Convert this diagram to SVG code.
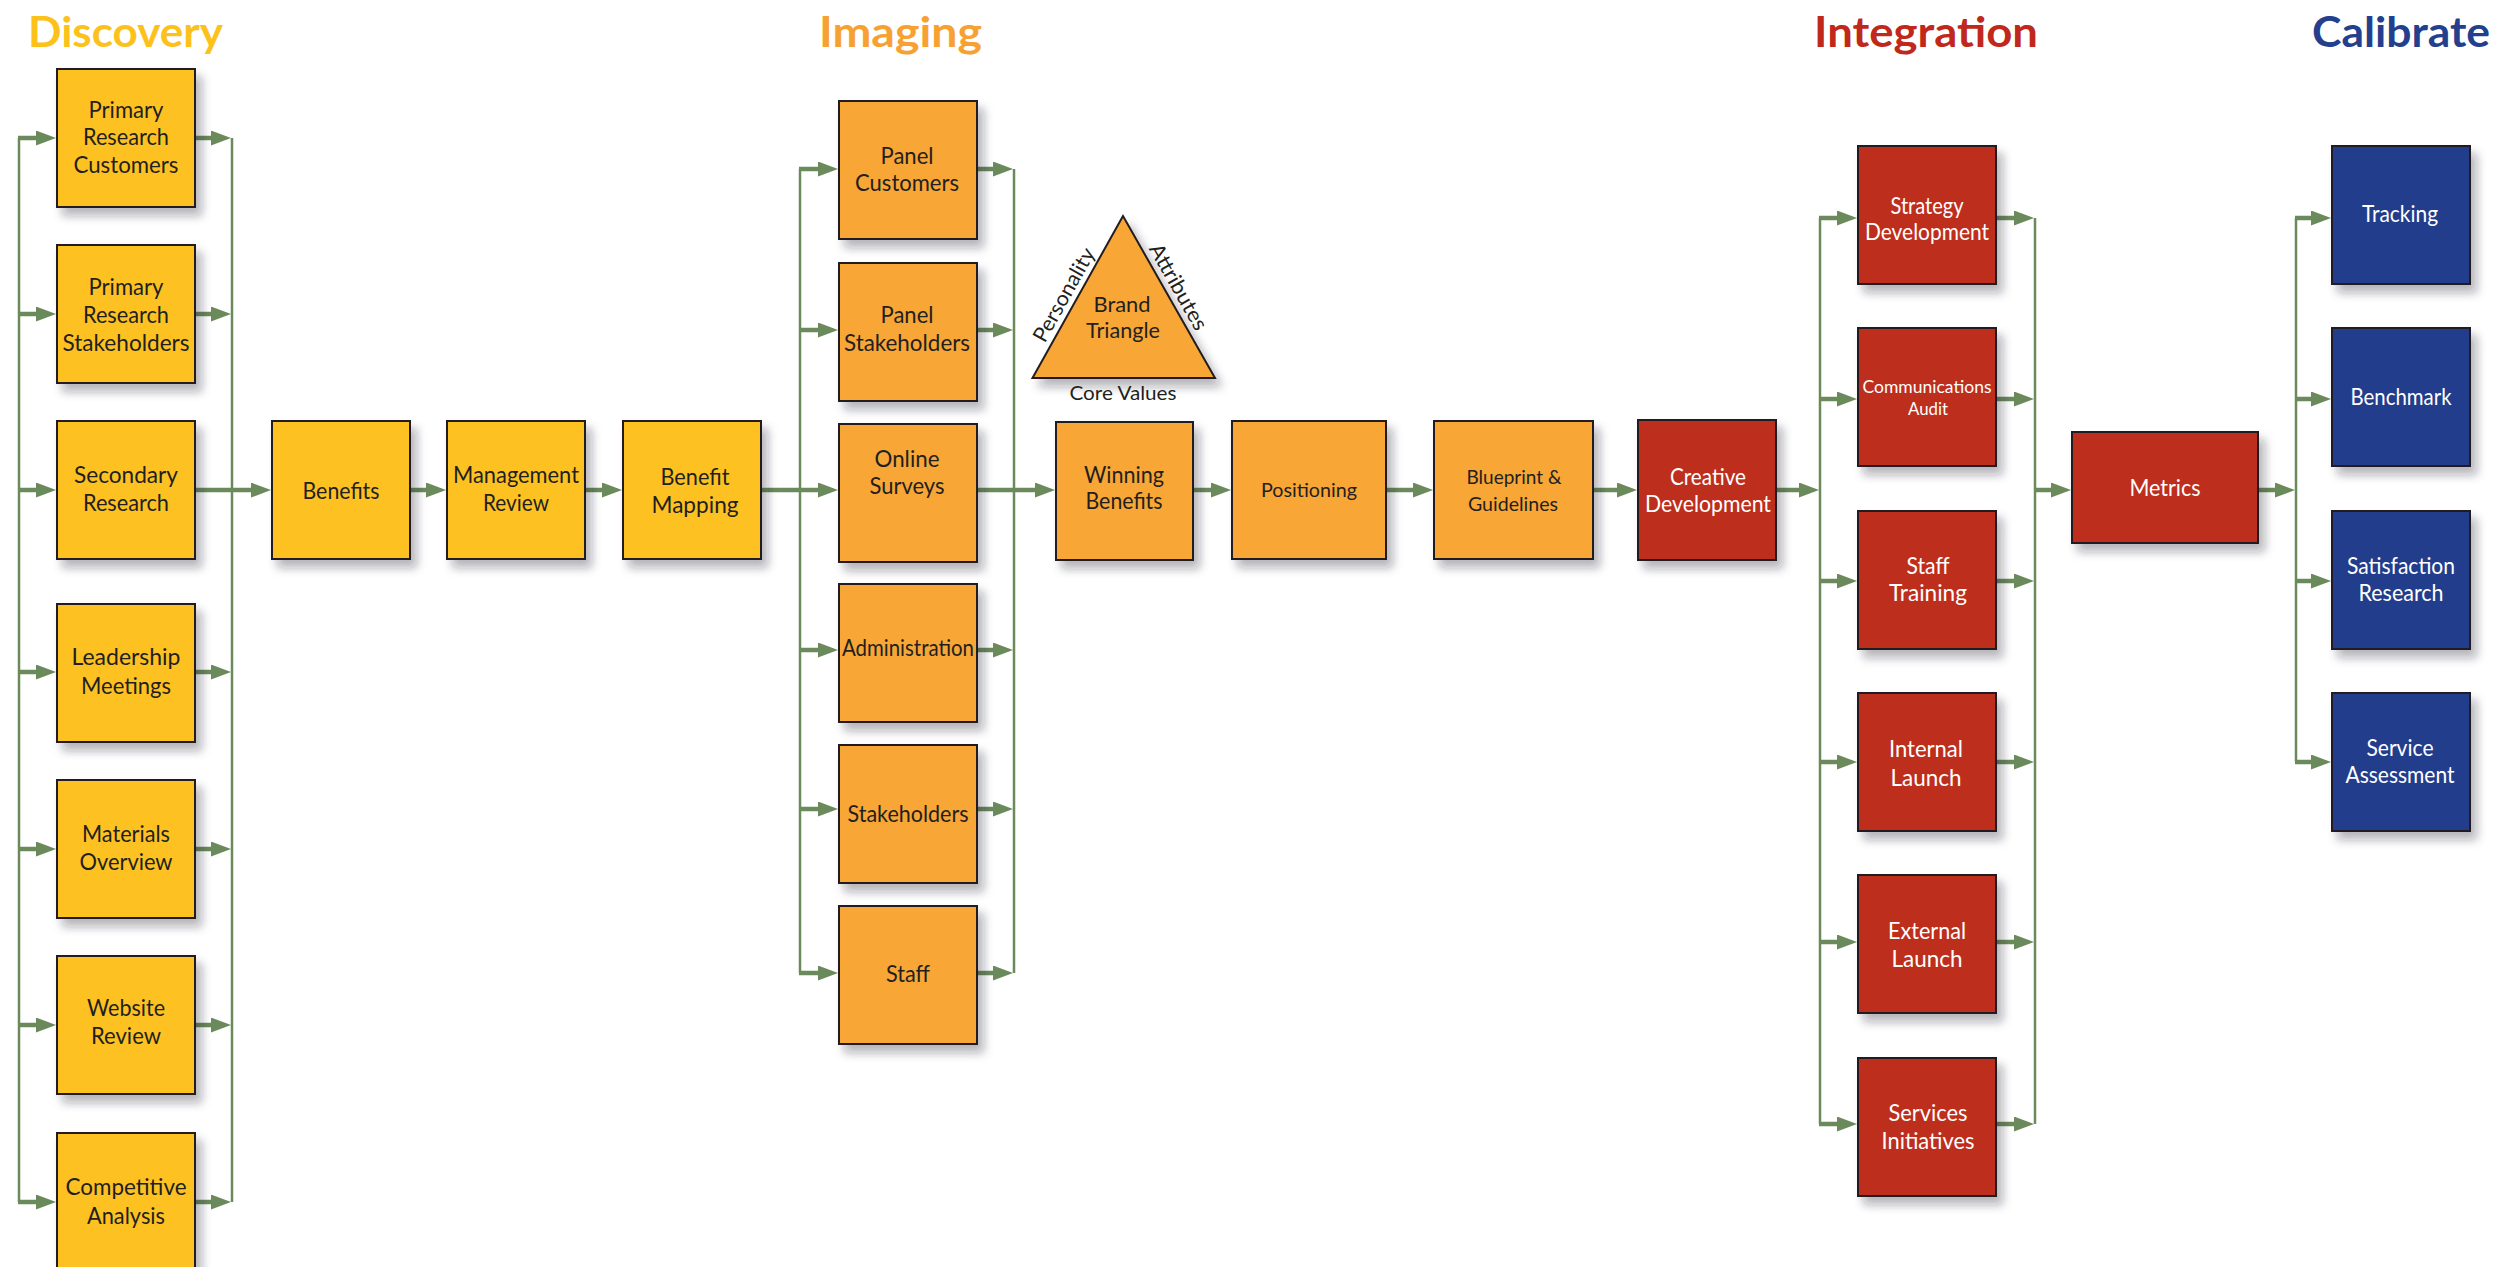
<svg xmlns="http://www.w3.org/2000/svg" width="2500" height="1267" viewBox="0 0 2500 1267">
  <defs>
    <style>
      .bg { fill: #ffffff; }
      .box { stroke: #231f20; stroke-width: 2; filter: url(#shadow); }
      .yel { fill: #fdc223; }
      .org { fill: #f8a634; }
      .red { fill: #be2d1b; }
      .blu { fill: #243e8b; }
      .lbl { font-family: Lato, "Open Sans", "Liberation Sans", sans-serif; font-size: 23px; text-anchor: middle; }
      .dk { fill: #231f20; }
      .wt { fill: #ffffff; }
      .sm { font-size: 19px; }
      .xs { font-size: 18px; }
      .md { font-size: 21px; }
      .ttl { font-family: Lato, "Open Sans", "Liberation Sans", sans-serif; font-weight: 700; font-size: 42px; }
      .bus { stroke: #6b8a5b; stroke-width: 2.5; fill: none; }
      .stub { stroke: #6b8a5b; stroke-width: 4.5; fill: none; marker-end: url(#ah); }
    </style>
    <marker id="ah" markerUnits="userSpaceOnUse" markerWidth="20" markerHeight="16" refX="1" refY="7.5" orient="auto">
      <path d="M0,0 L20,7.5 L0,15 Z" fill="#6b8a5b"/>
    </marker>
    <filter id="shadow" x="-20%" y="-20%" width="150%" height="150%">
      <feDropShadow dx="6" dy="8" stdDeviation="5" flood-color="#1a1a2a" flood-opacity="0.32"/>
    </filter>
  </defs>

  <rect class="bg" x="0" y="0" width="2500" height="1267"/>

  <!-- phase titles -->
  <g id="titles">
    <text class="ttl" x="28" y="47" fill="#fdc11c" textLength="195" lengthAdjust="spacingAndGlyphs">Discovery</text>
    <text class="ttl" x="819" y="47" fill="#f7a133" textLength="163" lengthAdjust="spacingAndGlyphs">Imaging</text>
    <text class="ttl" x="1814" y="47" fill="#c1281c" textLength="224" lengthAdjust="spacingAndGlyphs">Integration</text>
    <text class="ttl" x="2312" y="47" fill="#243f8d" textLength="178" lengthAdjust="spacingAndGlyphs">Calibrate</text>
  </g>

  <!-- connectors -->
  <g id="connectors">
    <!-- Discovery buses -->
    <line class="bus" x1="19" y1="138" x2="19" y2="1202"/>
    <line class="bus" x1="232" y1="138" x2="232" y2="1202"/>
    <line class="stub" x1="18" y1="138" x2="37" y2="138"/>
    <line class="stub" x1="19" y1="314" x2="37" y2="314"/>
    <line class="stub" x1="19" y1="490" x2="37" y2="490"/>
    <line class="stub" x1="19" y1="672" x2="37" y2="672"/>
    <line class="stub" x1="19" y1="849" x2="37" y2="849"/>
    <line class="stub" x1="19" y1="1025" x2="37" y2="1025"/>
    <line class="stub" x1="18" y1="1202" x2="37" y2="1202"/>
    <line class="stub" x1="195" y1="138" x2="212" y2="138"/>
    <line class="stub" x1="195" y1="314" x2="212" y2="314"/>
    <line class="stub" x1="195" y1="672" x2="212" y2="672"/>
    <line class="stub" x1="195" y1="849" x2="212" y2="849"/>
    <line class="stub" x1="195" y1="1025" x2="212" y2="1025"/>
    <line class="stub" x1="195" y1="1202" x2="212" y2="1202"/>
    <line class="stub" x1="195" y1="490" x2="252" y2="490"/>
    <line class="stub" x1="410" y1="490" x2="427" y2="490"/>
    <line class="stub" x1="585" y1="490" x2="603" y2="490"/>
    <line class="stub" x1="761" y1="490" x2="819" y2="490"/>

    <!-- Imaging buses -->
    <line class="bus" x1="800" y1="169" x2="800" y2="973"/>
    <line class="bus" x1="1014" y1="169" x2="1014" y2="973"/>
    <line class="stub" x1="799" y1="169" x2="819" y2="169"/>
    <line class="stub" x1="800" y1="330" x2="819" y2="330"/>
    <line class="stub" x1="800" y1="650" x2="819" y2="650"/>
    <line class="stub" x1="800" y1="809" x2="819" y2="809"/>
    <line class="stub" x1="799" y1="973" x2="819" y2="973"/>
    <line class="stub" x1="977" y1="169" x2="994" y2="169"/>
    <line class="stub" x1="977" y1="330" x2="994" y2="330"/>
    <line class="stub" x1="977" y1="650" x2="994" y2="650"/>
    <line class="stub" x1="977" y1="809" x2="994" y2="809"/>
    <line class="stub" x1="977" y1="973" x2="994" y2="973"/>
    <line class="stub" x1="977" y1="490" x2="1036" y2="490"/>
    <line class="stub" x1="1193" y1="490" x2="1212" y2="490"/>
    <line class="stub" x1="1386" y1="490" x2="1414" y2="490"/>
    <line class="stub" x1="1593" y1="490" x2="1618" y2="490"/>
    <line class="stub" x1="1776" y1="490" x2="1800" y2="490"/>

    <!-- Integration buses -->
    <line class="bus" x1="1820" y1="218" x2="1820" y2="1124"/>
    <line class="bus" x1="2035" y1="218" x2="2035" y2="1124"/>
    <line class="stub" x1="1819" y1="218" x2="1838" y2="218"/>
    <line class="stub" x1="1820" y1="399" x2="1838" y2="399"/>
    <line class="stub" x1="1820" y1="581" x2="1838" y2="581"/>
    <line class="stub" x1="1820" y1="762" x2="1838" y2="762"/>
    <line class="stub" x1="1820" y1="942" x2="1838" y2="942"/>
    <line class="stub" x1="1819" y1="1124" x2="1838" y2="1124"/>
    <line class="stub" x1="1996" y1="218" x2="2015" y2="218"/>
    <line class="stub" x1="1996" y1="399" x2="2015" y2="399"/>
    <line class="stub" x1="1996" y1="581" x2="2015" y2="581"/>
    <line class="stub" x1="1996" y1="762" x2="2015" y2="762"/>
    <line class="stub" x1="1996" y1="942" x2="2015" y2="942"/>
    <line class="stub" x1="1996" y1="1124" x2="2015" y2="1124"/>
    <line class="stub" x1="2035" y1="490" x2="2052" y2="490"/>
    <line class="stub" x1="2258" y1="490" x2="2276" y2="490"/>

    <!-- Calibrate bus -->
    <line class="bus" x1="2296" y1="218" x2="2296" y2="762"/>
    <line class="stub" x1="2295" y1="218" x2="2312" y2="218"/>
    <line class="stub" x1="2296" y1="399" x2="2312" y2="399"/>
    <line class="stub" x1="2296" y1="581" x2="2312" y2="581"/>
    <line class="stub" x1="2295" y1="762" x2="2312" y2="762"/>
  </g>

  <!-- Discovery -->
  <g id="primary-research-customers">
    <rect class="box yel" x="57" y="69" width="138" height="138"/>
    <text class="lbl dk" x="126" y="118" textLength="75" lengthAdjust="spacingAndGlyphs">Primary</text>
    <text class="lbl dk" x="126" y="145" textLength="86" lengthAdjust="spacingAndGlyphs">Research</text>
    <text class="lbl dk" x="126" y="173" textLength="105" lengthAdjust="spacingAndGlyphs">Customers</text>
  </g>
  <g id="primary-research-stakeholders">
    <rect class="box yel" x="57" y="245" width="138" height="138"/>
    <text class="lbl dk" x="126" y="295" textLength="75" lengthAdjust="spacingAndGlyphs">Primary</text>
    <text class="lbl dk" x="126" y="323" textLength="86" lengthAdjust="spacingAndGlyphs">Research</text>
    <text class="lbl dk" x="126" y="351" textLength="127" lengthAdjust="spacingAndGlyphs">Stakeholders</text>
  </g>
  <g id="secondary-research">
    <rect class="box yel" x="57" y="421" width="138" height="138"/>
    <text class="lbl dk" x="126" y="483" textLength="104" lengthAdjust="spacingAndGlyphs">Secondary</text>
    <text class="lbl dk" x="126" y="511" textLength="86" lengthAdjust="spacingAndGlyphs">Research</text>
  </g>
  <g id="leadership-meetings">
    <rect class="box yel" x="57" y="604" width="138" height="138"/>
    <text class="lbl dk" x="126" y="665" textLength="109" lengthAdjust="spacingAndGlyphs">Leadership</text>
    <text class="lbl dk" x="126" y="694" textLength="90" lengthAdjust="spacingAndGlyphs">Meetings</text>
  </g>
  <g id="materials-overview">
    <rect class="box yel" x="57" y="780" width="138" height="138"/>
    <text class="lbl dk" x="126" y="842" textLength="88" lengthAdjust="spacingAndGlyphs">Materials</text>
    <text class="lbl dk" x="126" y="870" textLength="93" lengthAdjust="spacingAndGlyphs">Overview</text>
  </g>
  <g id="website-review">
    <rect class="box yel" x="57" y="956" width="138" height="138"/>
    <text class="lbl dk" x="126" y="1016" textLength="78" lengthAdjust="spacingAndGlyphs">Website</text>
    <text class="lbl dk" x="126" y="1044" textLength="70" lengthAdjust="spacingAndGlyphs">Review</text>
  </g>
  <g id="competitive-analysis">
    <rect class="box yel" x="57" y="1133" width="138" height="138"/>
    <text class="lbl dk" x="126" y="1195" textLength="121" lengthAdjust="spacingAndGlyphs">Competitive</text>
    <text class="lbl dk" x="126" y="1224" textLength="78" lengthAdjust="spacingAndGlyphs">Analysis</text>
  </g>
  <g id="benefits">
    <rect class="box yel" x="272" y="421" width="138" height="138"/>
    <text class="lbl dk" x="341" y="499" textLength="77" lengthAdjust="spacingAndGlyphs">Benefits</text>
  </g>
  <g id="management-review">
    <rect class="box yel" x="447" y="421" width="138" height="138"/>
    <text class="lbl dk" x="516" y="483" textLength="126" lengthAdjust="spacingAndGlyphs">Management</text>
    <text class="lbl dk" x="516" y="511" textLength="66" lengthAdjust="spacingAndGlyphs">Review</text>
  </g>
  <g id="benefit-mapping">
    <rect class="box yel" x="623" y="421" width="138" height="138"/>
    <text class="lbl dk" x="695" y="485" textLength="69" lengthAdjust="spacingAndGlyphs">Benefit</text>
    <text class="lbl dk" x="695" y="513" textLength="87" lengthAdjust="spacingAndGlyphs">Mapping</text>
  </g>

  <!-- Imaging -->
  <g id="panel-customers">
    <rect class="box org" x="839" y="101" width="138" height="138"/>
    <text class="lbl dk" x="907" y="164" textLength="53" lengthAdjust="spacingAndGlyphs">Panel</text>
    <text class="lbl dk" x="907" y="191" textLength="104" lengthAdjust="spacingAndGlyphs">Customers</text>
  </g>
  <g id="panel-stakeholders">
    <rect class="box org" x="839" y="263" width="138" height="138"/>
    <text class="lbl dk" x="907" y="323" textLength="53" lengthAdjust="spacingAndGlyphs">Panel</text>
    <text class="lbl dk" x="907" y="351" textLength="126" lengthAdjust="spacingAndGlyphs">Stakeholders</text>
  </g>
  <g id="online-surveys">
    <rect class="box org" x="839" y="424" width="138" height="138"/>
    <text class="lbl dk" x="907" y="467" textLength="65" lengthAdjust="spacingAndGlyphs">Online</text>
    <text class="lbl dk" x="907" y="494" textLength="75" lengthAdjust="spacingAndGlyphs">Surveys</text>
  </g>
  <g id="administration">
    <rect class="box org" x="839" y="584" width="138" height="138"/>
    <text class="lbl dk" x="908" y="656" textLength="132" lengthAdjust="spacingAndGlyphs">Administration</text>
  </g>
  <g id="stakeholders">
    <rect class="box org" x="839" y="745" width="138" height="138"/>
    <text class="lbl dk" x="908" y="822" textLength="121" lengthAdjust="spacingAndGlyphs">Stakeholders</text>
  </g>
  <g id="staff">
    <rect class="box org" x="839" y="906" width="138" height="138"/>
    <text class="lbl dk" x="908" y="982" textLength="44" lengthAdjust="spacingAndGlyphs">Staff</text>
  </g>
  <g id="brand-triangle">
    <polygon class="box org" points="1123,216 1032.5,378 1215,378"/>
    <text class="lbl dk md" x="1122" y="312" textLength="57" lengthAdjust="spacingAndGlyphs">Brand</text>
    <text class="lbl dk md" x="1123" y="338" textLength="74" lengthAdjust="spacingAndGlyphs">Triangle</text>
    <text class="lbl dk md" transform="translate(1070.2,298.3) rotate(-60.8)" x="0" y="0" textLength="104" lengthAdjust="spacingAndGlyphs">Personality</text>
    <text class="lbl dk md" transform="translate(1172.2,290.4) rotate(60.4)" x="0" y="0" textLength="96" lengthAdjust="spacingAndGlyphs">Attributes</text>
    <text class="lbl dk" style="font-size:20px" x="1123" y="400" textLength="107" lengthAdjust="spacingAndGlyphs">Core Values</text>
  </g>
  <g id="winning-benefits">
    <rect class="box org" x="1056" y="422" width="137" height="138"/>
    <text class="lbl dk" x="1124" y="483" textLength="80" lengthAdjust="spacingAndGlyphs">Winning</text>
    <text class="lbl dk" x="1124" y="509" textLength="77" lengthAdjust="spacingAndGlyphs">Benefits</text>
  </g>
  <g id="positioning">
    <rect class="box org" x="1232" y="421" width="154" height="138"/>
    <text class="lbl dk sm" x="1309" y="497" textLength="96" lengthAdjust="spacingAndGlyphs">Positioning</text>
  </g>
  <g id="blueprint-guidelines">
    <rect class="box org" x="1434" y="421" width="159" height="138"/>
    <text class="lbl dk sm" x="1514" y="484" textLength="95" lengthAdjust="spacingAndGlyphs">Blueprint &amp;</text>
    <text class="lbl dk sm" x="1513" y="511" textLength="90" lengthAdjust="spacingAndGlyphs">Guidelines</text>
  </g>

  <!-- Integration -->
  <g id="creative-development">
    <rect class="box red" x="1638" y="420" width="138" height="140"/>
    <text class="lbl wt" x="1708" y="485" textLength="76" lengthAdjust="spacingAndGlyphs">Creative</text>
    <text class="lbl wt" x="1708" y="512" textLength="126" lengthAdjust="spacingAndGlyphs">Development</text>
  </g>
  <g id="strategy-development">
    <rect class="box red" x="1858" y="146" width="138" height="138"/>
    <text class="lbl wt" x="1927" y="214" textLength="73" lengthAdjust="spacingAndGlyphs">Strategy</text>
    <text class="lbl wt" x="1927" y="240" textLength="124" lengthAdjust="spacingAndGlyphs">Development</text>
  </g>
  <g id="communications-audit">
    <rect class="box red" x="1858" y="328" width="138" height="138"/>
    <text class="lbl wt xs" x="1927" y="393" textLength="129" lengthAdjust="spacingAndGlyphs">Communications</text>
    <text class="lbl wt xs" x="1928" y="415" textLength="40" lengthAdjust="spacingAndGlyphs">Audit</text>
  </g>
  <g id="staff-training">
    <rect class="box red" x="1858" y="511" width="138" height="138"/>
    <text class="lbl wt" x="1928" y="574" textLength="43" lengthAdjust="spacingAndGlyphs">Staff</text>
    <text class="lbl wt" x="1928" y="601" textLength="78" lengthAdjust="spacingAndGlyphs">Training</text>
  </g>
  <g id="internal-launch">
    <rect class="box red" x="1858" y="693" width="138" height="138"/>
    <text class="lbl wt" x="1926" y="757" textLength="74" lengthAdjust="spacingAndGlyphs">Internal</text>
    <text class="lbl wt" x="1926" y="786" textLength="71" lengthAdjust="spacingAndGlyphs">Launch</text>
  </g>
  <g id="external-launch">
    <rect class="box red" x="1858" y="875" width="138" height="138"/>
    <text class="lbl wt" x="1927" y="939" textLength="78" lengthAdjust="spacingAndGlyphs">External</text>
    <text class="lbl wt" x="1927" y="967" textLength="71" lengthAdjust="spacingAndGlyphs">Launch</text>
  </g>
  <g id="services-initiatives">
    <rect class="box red" x="1858" y="1058" width="138" height="138"/>
    <text class="lbl wt" x="1928" y="1121" textLength="79" lengthAdjust="spacingAndGlyphs">Services</text>
    <text class="lbl wt" x="1928" y="1149" textLength="93" lengthAdjust="spacingAndGlyphs">Initiatives</text>
  </g>
  <g id="metrics">
    <rect class="box red" x="2072" y="432" width="186" height="111"/>
    <text class="lbl wt" x="2165" y="496" textLength="71" lengthAdjust="spacingAndGlyphs">Metrics</text>
  </g>

  <!-- Calibrate -->
  <g id="tracking">
    <rect class="box blu" x="2332" y="146" width="138" height="138"/>
    <text class="lbl wt" x="2400" y="222" textLength="76" lengthAdjust="spacingAndGlyphs">Tracking</text>
  </g>
  <g id="benchmark">
    <rect class="box blu" x="2332" y="328" width="138" height="138"/>
    <text class="lbl wt" x="2401" y="405" textLength="101" lengthAdjust="spacingAndGlyphs">Benchmark</text>
  </g>
  <g id="satisfaction-research">
    <rect class="box blu" x="2332" y="511" width="138" height="138"/>
    <text class="lbl wt" x="2401" y="574" textLength="108" lengthAdjust="spacingAndGlyphs">Satisfaction</text>
    <text class="lbl wt" x="2401" y="601" textLength="85" lengthAdjust="spacingAndGlyphs">Research</text>
  </g>
  <g id="service-assessment">
    <rect class="box blu" x="2332" y="693" width="138" height="138"/>
    <text class="lbl wt" x="2400" y="756" textLength="67" lengthAdjust="spacingAndGlyphs">Service</text>
    <text class="lbl wt" x="2400" y="783" textLength="109" lengthAdjust="spacingAndGlyphs">Assessment</text>
  </g>
</svg>
